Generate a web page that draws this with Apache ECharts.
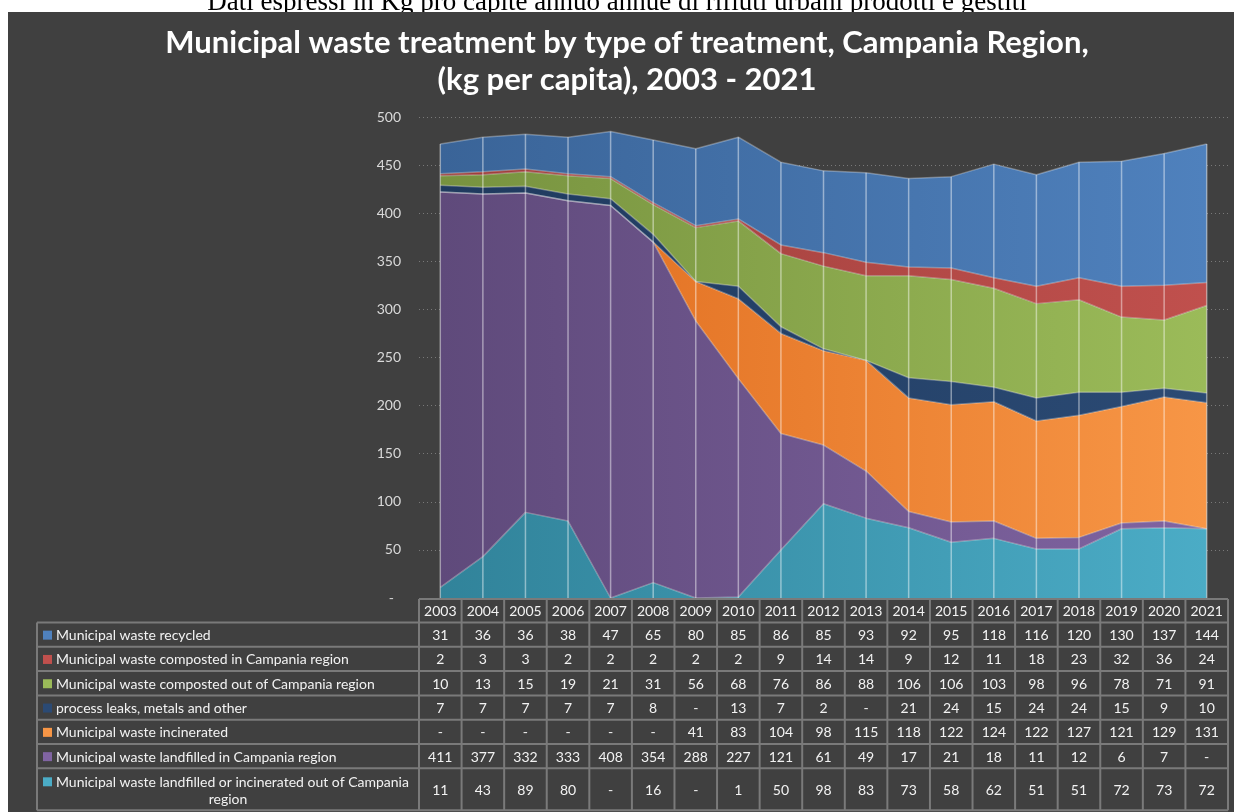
<!DOCTYPE html>
<html>
<head>
<meta charset="utf-8">
<script src="https://cdn.jsdelivr.net/npm/echarts@6/dist/echarts.min.js"></script>
<style>
  html, body { margin: 0; padding: 0; background: #fff; }
  #chart { width: 1234px; height: 812px; }
</style>
</head>
<body>
<div id="chart"></div>
<script>
// kg per capita, "-" in the source table is kept as null
const years = ['2003','2004','2005','2006','2007','2008','2009','2010','2011','2012','2013','2014','2015','2016','2017','2018','2019','2020','2021']
const recycled      = [31, 36, 36, 38, 47, 65, 80, 85, 86, 85, 93, 92, 95, 118, 116, 120, 130, 137, 144]
const compostedIn   = [2, 3, 3, 2, 2, 2, 2, 2, 9, 14, 14, 9, 12, 11, 18, 23, 32, 36, 24]
const compostedOut  = [10, 13, 15, 19, 21, 31, 56, 68, 76, 86, 88, 106, 106, 103, 98, 96, 78, 71, 91]
const leaks         = [7, 7, 7, 7, 7, 8, null, 13, 7, 2, null, 21, 24, 15, 24, 24, 15, 9, 10]
const incinerated   = [null, null, null, null, null, null, 41, 83, 104, 98, 115, 118, 122, 124, 122, 127, 121, 129, 131]
const landfilledIn  = [411, 377, 332, 333, 408, 354, 288, 227, 121, 61, 49, 17, 21, 18, 11, 12, 6, 7, null]
const landfilledOut = [11, 43, 89, 80, null, 16, null, 1, 50, 98, 83, 73, 58, 62, 51, 51, 72, 73, 72]

// table order (top -> bottom); the chart stacks them the other way round
const rows = [
  { name: 'Municipal waste recycled', data: recycled, c0: '#3a6498', c1: '#4f81bd' },
  { name: 'Municipal waste composted in Campania region', data: compostedIn, c0: '#9c3e3b', c1: '#c0504d' },
  { name: 'Municipal waste composted out of Campania region', data: compostedOut, c0: '#77923f', c1: '#9bbb59' },
  { name: 'process leaks, metals and other', data: leaks, c0: '#1f3a5e', c1: '#2b4a74' },
  { name: 'Municipal waste incinerated', data: incinerated, c0: '#de6a1c', c1: '#f79646' },
  { name: 'Municipal waste landfilled in Campania region', data: landfilledIn, c0: '#5f4a7b', c1: '#8064a2' },
  { name: 'Municipal waste landfilled or incinerated out of Campania region', data: landfilledOut, c0: '#31839a', c1: '#4bacc6' }
]

const totals = years.map((y, i) => rows.reduce((s, r) => s + (r.data[i] || 0), 0))

const FONT = 'Lato, "Noto Sans", sans-serif'
const BG = '#404040'
const chart = echarts.init(document.getElementById('chart'))

const areaSeries = rows.slice().reverse().map(r => ({
  name: r.name,
  type: 'line',
  stack: 'waste',
  data: r.data.map(v => v || 0),
  showSymbol: false,
  lineStyle: { width: 1.5, color: 'rgba(255,255,255,0.3)' },
  areaStyle: {
    opacity: 1,
    color: new echarts.graphic.LinearGradient(0, 0, 1, 0, [
      { offset: 0, color: r.c0 },
      { offset: 1, color: r.c1 }
    ])
  },
  z: 2
}))

chart.setOption({
  animation: false,
  backgroundColor: BG,
  grid: { left: 419, right: 6, top: 117, bottom: 214 },
  xAxis: {
    type: 'category',
    data: years,
    boundaryGap: true,
    axisLine: { show: false },
    axisTick: { show: false },
    axisLabel: { show: false }
  },
  yAxis: {
    type: 'value',
    min: 0,
    max: 500,
    interval: 50,
    axisLine: { show: false },
    axisTick: { show: false },
    axisLabel: {
      margin: 18,
      color: '#d9d9d9',
      fontSize: 14,
      fontFamily: FONT,
      formatter: v => (v === 0 ? '-  ' : v)
    },
    splitLine: { lineStyle: { color: 'rgba(255,255,255,0.3)', type: [1, 3], width: 1 } }
  },
  series: areaSeries.concat([{
    // drop lines at each year
    type: 'custom',
    data: totals.map((t, i) => [i, t]),
    encode: { x: 0, y: 1 },
    z: 5,
    renderItem: (params, api) => {
      const p0 = api.coord([api.value(0), 0])
      const p1 = api.coord([api.value(0), api.value(1)])
      return {
        type: 'line',
        shape: { x1: p0[0], y1: p0[1], x2: p1[0], y2: p1[1] },
        style: { stroke: 'rgba(255,255,255,0.45)', lineWidth: 1.5 }
      }
    }
  }])
})

// page strip, titles and data table
const els = []
els.push({ type: 'rect', z: 1, shape: { x: 0, y: 0, width: 1234, height: 12 }, style: { fill: '#fff' } })
els.push({ type: 'rect', z: 1, shape: { x: 0, y: 0, width: 8, height: 812 }, style: { fill: '#fff' } })
els.push({
  type: 'text', z: 2,
  style: {
    text: 'Dati espressi in Kg pro capite annuo annue di rifiuti urbani prodotti e gestiti',
    x: 617, y: 16, align: 'center', verticalAlign: 'bottom',
    font: '27px "Liberation Serif", serif', fill: '#000'
  }
})
els.push({ type: 'rect', z: 3, shape: { x: 8, y: 12, width: 1226, height: 10 }, style: { fill: BG } })
els.push({
  type: 'text', z: 10,
  style: {
    text: 'Municipal waste treatment by type of treatment, Campania Region,\n(kg per capita), 2003 - 2021',
    x: 627, y: 24, align: 'center', verticalAlign: 'top',
    font: 'bold 31px ' + FONT, lineHeight: 37, fill: '#fff'
  }
})

const xs = years.map(y => chart.convertToPixel({ xAxisIndex: 0 }, y))
const colW = xs[1] - xs[0]
const tLeft = 37
const labRight = xs[0] - colW / 2
const tRight = xs[xs.length - 1] + colW / 2
const headTop = 599
const headH = 23.5
const rowH = 24.3
const lastH = 42
const rowTops = rows.map((r, i) => headTop + headH + i * rowH)
const tBottom = rowTops[rowTops.length - 1] + lastH
const border = { stroke: '#7a7a7a', lineWidth: 2 }
const txt = '14px ' + FONT

const hline = (x1, x2, y) => els.push({ type: 'line', z: 10, shape: { x1, y1: y, x2, y2: y }, style: border })
const vline = (x, y1, y2) => els.push({ type: 'line', z: 10, shape: { x1: x, y1, x2: x, y2 }, style: border })

hline(labRight, tRight, headTop)
rowTops.forEach(y => hline(tLeft, tRight, y))
hline(tLeft, tRight, tBottom)
vline(tLeft, rowTops[0], tBottom)
xs.forEach(x => vline(x - colW / 2, headTop, tBottom))
vline(tRight, headTop, tBottom)

years.forEach((y, i) => els.push({
  type: 'text', z: 11,
  style: { text: y, x: xs[i], y: headTop + headH / 2 + 1, align: 'center', verticalAlign: 'middle', font: txt, fill: '#f2f2f2' }
}))

rows.forEach((r, ri) => {
  const last = ri === rows.length - 1
  const h = last ? lastH : rowH
  const cy = rowTops[ri] + h / 2 + 1
  const ly = last ? cy - 8 : cy
  els.push({ type: 'rect', z: 11, shape: { x: 43, y: ly - 5, width: 9, height: 9 }, style: { fill: r.c1 } })
  if (last) {
    const parts = r.name.split(' ')
    const tail = parts.pop()
    els.push({ type: 'text', z: 11, style: { text: parts.join(' '), x: 56, y: ly, verticalAlign: 'middle', font: txt, fill: '#f2f2f2' } })
    els.push({ type: 'text', z: 11, style: { text: tail, x: (tLeft + labRight) / 2, y: cy + 9, align: 'center', verticalAlign: 'middle', font: txt, fill: '#f2f2f2' } })
  } else {
    els.push({ type: 'text', z: 11, style: { text: r.name, x: 56, y: ly, verticalAlign: 'middle', font: txt, fill: '#f2f2f2' } })
  }
  r.data.forEach((v, i) => els.push({
    type: 'text', z: 11,
    style: { text: v == null ? '-' : String(v), x: xs[i], y: cy, align: 'center', verticalAlign: 'middle', font: txt, fill: '#f2f2f2' }
  }))
})

chart.setOption({ graphic: { elements: els } })
</script>
</body>
</html>
